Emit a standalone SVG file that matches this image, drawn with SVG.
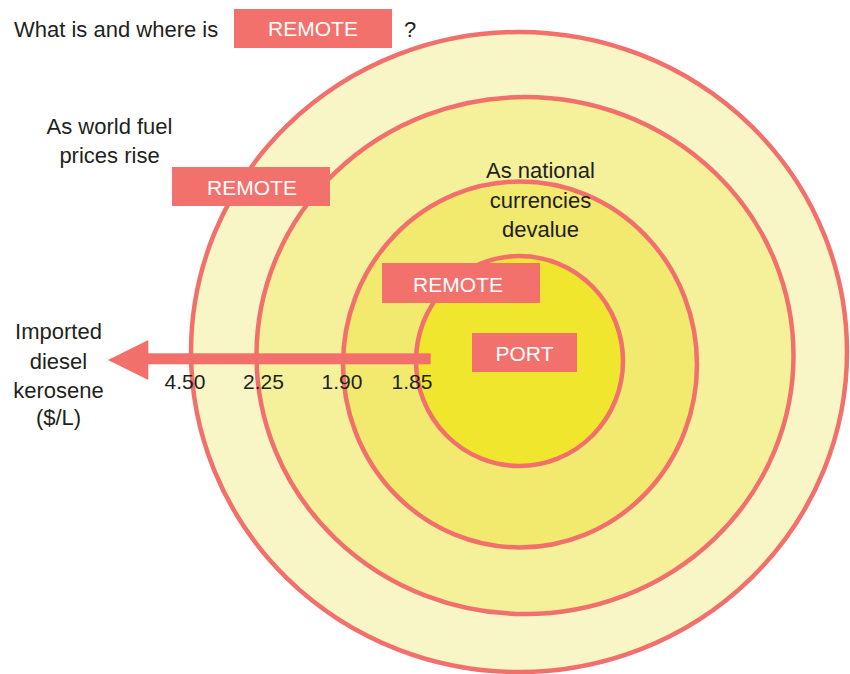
<svg xmlns="http://www.w3.org/2000/svg" width="850" height="674" viewBox="0 0 850 674">
<style>
.ring{stroke:#f2706c;stroke-width:4.5}
.box{fill:#f2716d}
.t{font-family:"Liberation Sans",Arial,sans-serif;font-size:22px;fill:#231f20}
.bt{font-family:"Liberation Sans",Arial,sans-serif;font-size:21px;fill:#ffffff;text-anchor:middle}
.n{font-family:"Liberation Sans",Arial,sans-serif;font-size:21px;fill:#231f20;text-anchor:middle}
.c{text-anchor:middle}
</style>
<rect width="850" height="674" fill="#ffffff"/>
<g id="rings">
<ellipse id="ring-outer" class="ring" cx="519" cy="352" rx="328" ry="320" fill="#f8f5c6"/>
<ellipse id="ring-2" class="ring" cx="525" cy="355.5" rx="268.5" ry="258.5" fill="#f5f09a"/>
<ellipse id="ring-3" class="ring" cx="520" cy="364.5" rx="177" ry="183" fill="#f2e96f"/>
<ellipse id="ring-inner" class="ring" cx="519.5" cy="361" rx="103.5" ry="105" fill="#f0e62d"/>
</g>
<g id="connectors">
<rect x="146" y="353.3" width="284.7" height="11" fill="#f2706c"/>
<polygon points="108,360 148.3,340 148.3,380" fill="#f2706c"/>
</g>
<g id="title">
<text class="t" x="14" y="37">What is and where is</text>
<rect class="box" x="234" y="9" width="158" height="39"/>
<text class="bt" x="313" y="36">REMOTE</text>
<text class="t" x="404" y="37">?</text>
</g>
<g id="world">
<text class="t c" x="109.5" y="134">As world fuel</text>
<text class="t c" x="109.5" y="163">prices rise</text>
<rect class="box" x="172" y="167" width="158" height="39"/>
<text class="bt" x="252" y="195">REMOTE</text>
</g>
<g id="national">
<text class="t c" x="540.5" y="178">As national</text>
<text class="t c" x="540.5" y="207.5">currencies</text>
<text class="t c" x="540.5" y="237">devalue</text>
<rect class="box" x="382" y="263" width="158" height="40"/>
<text class="bt" x="458" y="291.5">REMOTE</text>
</g>
<g id="port">
<rect class="box" x="472" y="333" width="105" height="39"/>
<text class="bt" x="524.5" y="360.5">PORT</text>
</g>
<g id="imported">
<text class="t c" x="58.5" y="339">Imported</text>
<text class="t c" x="58.5" y="368.5">diesel</text>
<text class="t c" x="58.5" y="398">kerosene</text>
<text class="t c" x="58.5" y="425">($/L)</text>
</g>
<g id="values">
<text class="n" x="185" y="388.5">4.50</text>
<text class="n" x="263.5" y="388.5">2.25</text>
<text class="n" x="342" y="388.5">1.90</text>
<text class="n" x="412" y="388.5">1.85</text>
</g>
</svg>
